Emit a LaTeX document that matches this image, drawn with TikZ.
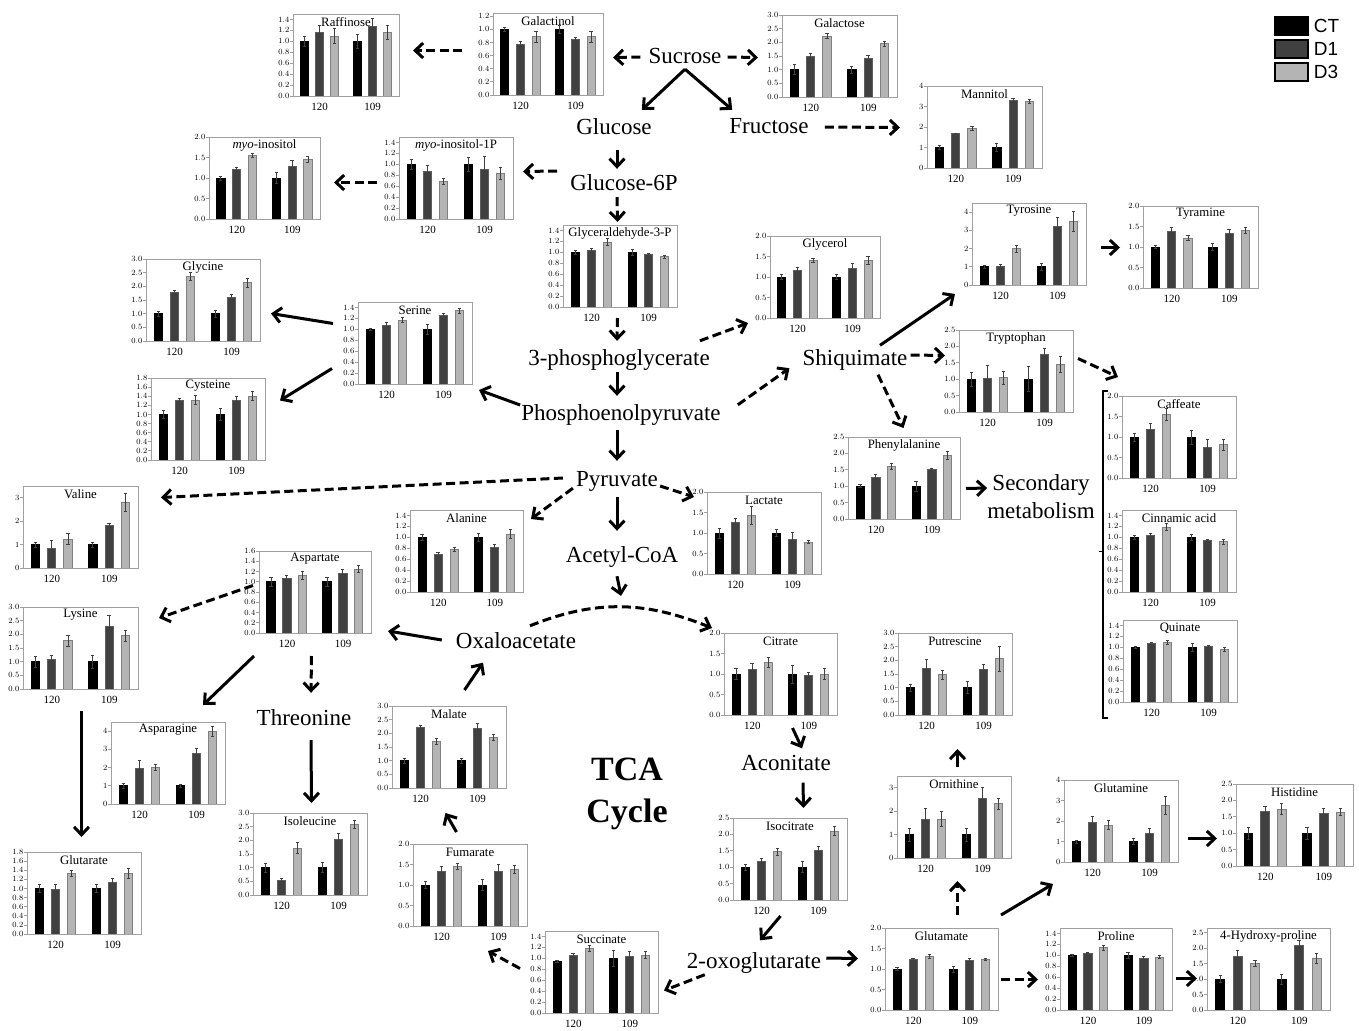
\documentclass[tikz,border=0pt]{standalone}
\usepackage{fontspec}
\setmainfont{Liberation Serif}
\newfontfamily\legendfont{Liberation Sans}
\usetikzlibrary{arrows.meta}
\usetikzlibrary{positioning}
\definecolor{dgrey}{HTML}{404040}
\definecolor{lgrey}{HTML}{B4B4B4}
\definecolor{frgrey}{HTML}{A0A0A0}

% #1 name, #2 left, #3 top, #4 width, #5 title, #6 axis max, #7 tick step, #8 last tick, #9 value/error list
\newcommand{\barchart}[9]{%
  \begin{scope}[shift={(#2,#3)}]
    \pgfmathtruncatemacro\tn{round(#8/#7)}
    \pgfmathtruncatemacro\prec{#7<1 ? 1 : 0}
    \foreach \i in {0,...,\tn} {
      \pgfmathsetmacro\tv{\i*#7}
      \pgfmathsetmacro\ty{82-\tv*82/#6}
      \draw[tickmark] (-3,\ty) -- (0,\ty);
      \node[ticklabel] at (-3.5,\ty) {\pgfmathprintnumber[fixed, fixed zerofill, precision=\prec]{\tv}};
    }
    \foreach \val/\err [count=\j from 0] in {#9} {
      \pgfmathtruncatemacro\bk{mod(\j,3)}
      \pgfmathsetmacro\bw{0.073*#4}
      \pgfmathsetmacro\bx{#4*(0.07+0.5*floor(\j/3)+0.142*\bk)}
      \pgfmathsetmacro\bc{\bx+\bw/2}
      \pgfmathsetmacro\by{82-\val*82/#6}
      \pgfmathsetmacro\ehi{82-(\val+\err)*82/#6}
      \pgfmathsetmacro\elo{82-(\val-\err)*82/#6}
      \ifcase\bk \def\bfill{black}\def\bedge{black}\or \def\bfill{dgrey}\def\bedge{dgrey!85!white}\or \def\bfill{lgrey}\def\bedge{gray}\fi
      \filldraw[fill=\bfill, draw=\bedge, line width=0.7pt] (\bx,82) rectangle ({\bx+\bw},\by);
      \draw[errbar] (\bc,\ehi) -- (\bc,\elo) ({\bc-1.6},\ehi) -- ({\bc+1.6},\ehi) ({\bc-1.6},\elo) -- ({\bc+1.6},\elo);
    }
    \node[chartbox, minimum width=#4pt, minimum height=82pt, anchor=north west] (#1) at (0,0) {};
    \node[charttitle] (#1-title) at ({#4/2},8) {#5};
    \node[grouplabel] (#1-a) at ({0.25*#4},93) {120};
    \node[grouplabel] (#1-b) at ({0.75*#4},93) {109};
  \end{scope}
}

\begin{document}
\begin{tikzpicture}[
    x=1pt, y=-1pt,
    metab/.style={font=\fontsize{23}{27}\selectfont, inner sep=0pt, text height=17pt, text depth=3pt},
    flow/.style={-{Straight Barb[length=8pt, width=15pt]}, line width=3pt},
    dflow/.style={flow, dash pattern=on 9pt off 4.5pt},
    chartbox/.style={rectangle, draw=frgrey, line width=1pt},
    charttitle/.style={font=\fontsize{12.8}{14}\selectfont, inner sep=0pt},
    grouplabel/.style={font=\fontsize{11}{13}\selectfont, inner sep=0pt},
    ticklabel/.style={font=\fontsize{8.5}{10}\selectfont, inner sep=0pt, anchor=east},
    tickmark/.style={draw=frgrey, line width=0.8pt},
    errbar/.style={draw=black!75, line width=0.7pt},
    legendkey/.style={rectangle, draw=black, line width=1.5pt, minimum width=33pt, minimum height=18pt},
    legendtext/.style={font=\legendfont\fontsize{19}{22}\selectfont, inner sep=0pt},
    ]
    \useasboundingbox (0,0) rectangle (1359,1030);

    % metabolites
    \node[metab] (sucr) at (685,57) {Sucrose};
    \node[metab] (glc) at (614,128) {Glucose};
    \node[metab] (fru) at (769,127) {Fructose};
    \node[metab] (g6p) at (624,183) {Glucose-6P};
    \node[metab] (pga) at (619,358) {3-phosphoglycerate};
    \node[metab] (pep) at (621,413) {Phosphoenolpyruvate};
    \node[metab] (shq) at (855,358) {Shiquimate};
    \node[metab] (pyr) at (617,479) {Pyruvate};
    \node[metab] (acoa) at (622,555) {Acetyl-CoA};
    \node[metab] (oaa) at (516,641) {Oxaloacetate};
    \node[metab] (thr) at (304,718) {Threonine};
    \node[metab] (aco) at (786,763) {Aconitate};
    \node[metab] (oxg) at (754,961) {2-oxoglutarate};
    \node[font=\fontsize{23}{28}\selectfont, align=center, inner sep=0pt] (sec) at (1041,497) {Secondary\\metabolism};
    \node[font=\fontsize{34}{42}\selectfont\bfseries, align=center, inner sep=0pt] (tca) at (627,794) {TCA\\Cycle};

    % charts
    \barchart{raf}{293}{14}{106}{Raffinose}{1.5}{0.2}{1.4}{1/0.09, 1.16/0.13, 1.10/0.13, 1/0.12, 1.28/0.14, 1.16/0.13}
    \barchart{galn}{493}{13}{110}{Galactinol}{1.25}{0.2}{1.2}{1/0.03, 0.77/0.05, 0.89/0.08, 1/0.06, 0.85/0.03, 0.89/0.08}
    \barchart{galc}{782}{15}{115}{Galactose}{3}{0.5}{3}{1/0.18, 1.5/0.1, 2.23/0.1, 1/0.13, 1.42/0.1, 1.95/0.1}
    \barchart{man}{927}{86}{115}{Mannitol}{4}{1}{4}{1/0.1, 1.68/0.03, 1.93/0.1, 1/0.2, 3.28/0.13, 3.26/0.1}
    \barchart{myo}{209}{137}{111}{\textit{myo}-inositol}{2}{0.5}{2}{1/0.05, 1.21/0.06, 1.55/0.04, 1/0.14, 1.29/0.13, 1.45/0.07}
    \barchart{myop}{399}{137}{114}{\textit{myo}-inositol-1P}{1.5}{0.2}{1.4}{1/0.1, 0.87/0.11, 0.69/0.05, 1/0.13, 0.91/0.24, 0.84/0.11}
    \barchart{gap}{563}{225}{114}{Glyceraldehyde-3-P}{1.5}{0.2}{1.4}{1/0.03, 1.04/0.04, 1.19/0.06, 1/0.05, 0.96/0.03, 0.92/0.03}
    \barchart{glyc}{770}{236}{110}{Glycerol}{2}{0.5}{2}{1/0.06, 1.16/0.08, 1.41/0.05, 1/0.06, 1.21/0.13, 1.41/0.09}
    \barchart{tyr}{972}{203}{114}{Tyrosine}{4.5}{1}{4}{1/0.1, 1.03/0.12, 2/0.2, 1/0.2, 3.22/0.5, 3.48/0.55}
    \barchart{tym}{1143}{206}{115}{Tyramine}{2}{0.5}{2}{1/0.04, 1.38/0.1, 1.22/0.06, 1/0.09, 1.33/0.09, 1.40/0.07}
    \barchart{gly}{146}{259}{114}{Glycine}{3}{0.5}{3}{1/0.1, 1.78/0.08, 2.37/0.14, 1/0.12, 1.6/0.1, 2.14/0.16}
    \barchart{ser}{358}{302}{114}{Serine}{1.5}{0.2}{1.4}{1/0.02, 1.07/0.05, 1.17/0.05, 1/0.09, 1.25/0.05, 1.34/0.05}
    \barchart{cys}{151}{378}{114}{Cysteine}{1.8}{0.2}{1.8}{1/0.09, 1.30/0.05, 1.32/0.1, 1/0.13, 1.32/0.08, 1.40/0.1}
    \barchart{trp}{959}{330}{114}{Tryptophan}{2.5}{0.5}{2.5}{1/0.22, 1.02/0.4, 1.05/0.2, 1/0.38, 1.75/0.18, 1.46/0.24}
    \barchart{phe}{848}{437}{112}{Phenylalanine}{2.5}{0.5}{2.5}{1/0.05, 1.28/0.08, 1.6/0.1, 1/0.15, 1.5/0.05, 1.95/0.12}
    \barchart{caf}{1122}{396}{114}{Caffeate}{2}{0.5}{2}{1/0.1, 1.18/0.15, 1.55/0.15, 1/0.17, 0.74/0.2, 0.81/0.13}
    \barchart{cin}{1122}{510}{114}{Cinnamic acid}{1.5}{0.2}{1.4}{1/0.04, 1.04/0.04, 1.19/0.06, 1/0.05, 0.94/0.03, 0.92/0.04}
    \barchart{qui}{1123}{620}{114}{Quinate}{1.5}{0.2}{1.4}{1/0.01, 1.07/0.03, 1.09/0.04, 1/0.08, 1.01/0.03, 0.96/0.04}
    \barchart{val}{23}{486}{115}{Valine}{3.5}{1}{3}{1/0.1, 0.85/0.33, 1.23/0.23, 1/0.1, 1.83/0.08, 2.8/0.4}
    \barchart{lys}{23}{607}{115}{Lysine}{3}{0.5}{3}{1/0.2, 1.08/0.15, 1.77/0.2, 1/0.24, 2.3/0.4, 1.95/0.2}
    \barchart{asp}{259}{551}{112}{Aspartate}{1.6}{0.2}{1.6}{1/0.08, 1.07/0.06, 1.12/0.08, 1/0.08, 1.16/0.08, 1.25/0.07}
    \barchart{ala}{410}{510}{113}{Alanine}{1.5}{0.2}{1.4}{1/0.05, 0.69/0.03, 0.78/0.03, 1/0.08, 0.81/0.07, 1.06/0.08}
    \barchart{lac}{707}{492}{114}{Lactate}{2}{0.5}{2}{1/0.12, 1.27/0.08, 1.44/0.22, 1/0.08, 0.84/0.18, 0.78/0.04}
    \barchart{cit}{724}{633}{113}{Citrate}{2}{0.5}{2}{1/0.14, 1.11/0.16, 1.29/0.12, 1/0.22, 0.97/0.08, 1/0.14}
    \barchart{put}{898}{633}{114}{Putrescine}{3}{0.5}{3}{1/0.12, 1.7/0.33, 1.48/0.17, 1/0.22, 1.66/0.18, 2.06/0.46}
    \barchart{asn}{111}{722}{114}{Asparagine}{4.5}{1}{4}{1/0.13, 1.95/0.43, 2.02/0.17, 1/0.1, 2.78/0.25, 4/0.27}
    \barchart{mal}{392}{706}{114}{Malate}{3}{0.5}{3}{1/0.1, 2.22/0.07, 1.7/0.1, 1/0.1, 2.18/0.2, 1.85/0.1}
    \barchart{ile}{253}{813}{114}{Isoleucine}{3}{0.5}{3}{1/0.17, 0.52/0.08, 1.72/0.2, 1/0.18, 2.05/0.22, 2.58/0.14}
    \barchart{glt}{27}{852}{114}{Glutarate}{1.8}{0.2}{1.8}{1/0.08, 0.97/0.12, 1.33/0.07, 1/0.08, 1.13/0.1, 1.33/0.11}
    \barchart{fum}{413}{844}{114}{Fumarate}{2}{0.5}{2}{1/0.09, 1.33/0.13, 1.46/0.08, 1/0.14, 1.33/0.18, 1.39/0.1}
    \barchart{ict}{733}{818}{114}{Isocitrate}{2.5}{0.5}{2.5}{1/0.1, 1.17/0.1, 1.47/0.1, 1/0.17, 1.5/0.15, 2.1/0.14}
    \barchart{orn}{897}{776}{114}{Ornithine}{3.5}{1}{3}{1/0.27, 1.63/0.5, 1.67/0.33, 1/0.27, 2.55/0.47, 2.32/0.23}
    \barchart{gln}{1064}{780}{114}{Glutamine}{4}{1}{4}{1/0.08, 1.93/0.3, 1.81/0.23, 1/0.15, 1.38/0.26, 2.75/0.43}
    \barchart{his}{1236}{784}{117}{Histidine}{2.5}{0.5}{2.5}{1/0.18, 1.66/0.15, 1.74/0.17, 1/0.18, 1.62/0.13, 1.65/0.1}
    \barchart{succ}{545}{931}{113}{Succinate}{1.5}{0.2}{1.4}{0.95/0.02, 1.05/0.05, 1.18/0.05, 1/0.14, 1.03/0.09, 1.06/0.06}
    \barchart{glu}{885}{928}{113}{Glutamate}{2}{0.5}{2}{1/0.03, 1.23/0.02, 1.31/0.04, 1/0.07, 1.21/0.05, 1.24/0.03}
    \barchart{pro}{1060}{928}{112}{Proline}{1.5}{0.2}{1.4}{1/0.02, 1.04/0.01, 1.14/0.04, 1/0.05, 0.95/0.04, 0.97/0.03}
    \barchart{hyp}{1207}{928}{123}{4-Hydroxy-proline}{2.65}{0.5}{2.5}{1/0.12, 1.73/0.2, 1.5/0.1, 1/0.16, 2.1/0.15, 1.67/0.16}

    % legend
    \foreach \lbl/\col [count=\i] in {CT/black, D1/dgrey, D3/lgrey} {
        \node[legendkey, fill=\col] (key\lbl) at (1291.5,{3+23*\i}) {};
        \node[legendtext, right=5pt of key\lbl] (txt\lbl) {\lbl};
    }

    % bracket round the phenylpropanoids
    \draw[line width=1.5pt] ([shift={(-14,-5)}]caf.north west) -- ++(-5,0) |- ([shift={(-15,15)}]qui.south west);
    \draw[line width=1.5pt] ([shift={(-19,0)}]cin.west) -- ++(-4,0);

    % sugars
    \draw[dflow] ([shift={(-8,0)}]sucr.west) -- ([shift={(9,3)}]galn.east);
    \draw[dflow] ([shift={(-31,-4)}]galn.west) -- ([shift={(13,-5)}]raf.east);
    \draw[dflow] ([shift={(6,0)}]sucr.east) -- ([shift={(-24,1)}]galc.west);
    \draw[flow] ([shift={(0,2)}]sucr.south) -- ([shift={(-10,-8)}]glc.north east);
    \draw[flow] ([shift={(0,2)}]sucr.south) -- ([shift={(3,-7)}]fru.north west);
    \draw[dflow] ([shift={(16,0)}]fru.east) -- ([shift={(-27,0)}]man.west);
    \draw[flow] ([shift={(3,12)}]glc.south) -- ([shift={(-7,-4)}]g6p.north);
    \draw[dflow] ([shift={(-13,-12)}]g6p.west) -- ([shift={(9,-7)}]myop.east);
    \draw[dflow] ([shift={(-22,4)}]myop.west) -- ([shift={(13,4)}]myo.east);
    \draw[dflow] ([shift={(-7,4)}]g6p.south) -- ([shift={(-3,-3)}]gap.north);
    \draw[dflow] ([shift={(-3,10)}]gap.south) -- ([shift={(-2,-7)}]pga.north);
    \draw[dflow] ([shift={(-10,-7)}]pga.north east) -- ([shift={(-22,4)}]glyc.south west);
    \draw[flow] ([shift={(-2,4)}]pga.south) -- ([shift={(-4,-7)}]pep.north);

    % serine
    \draw[flow] ([shift={(-1,-8)}]pep.west) -- ([shift={(6,5)}]ser.south east);
    \draw[flow] ([shift={(-25,-20)}]ser.west) -- ([shift={(10,13)}]gly.east);
    \draw[flow] ([shift={(-26,25)}]ser.west) -- ([shift={(14,-19)}]cys.east);

    % shiquimate
    \draw[dflow] ([shift={(17,2)}]pep.north east) -- ([shift={(-13,0)}]shq.south west);
    \draw[flow] ([shift={(25,-2.5)}]shq.north) -- ([shift={(-17,8)}]tyr.south west);
    \draw[flow] ([shift={(14,3)}]tyr.east) -- ([shift={(-23,0)}]tym.west);
    \draw[dflow] ([shift={(3,-3)}]shq.east) -- ([shift={(-14,-16)}]trp.west);
    \draw[dflow] ([shift={(4,-13)}]trp.east) -- ([shift={(-4,-19)}]caf.north west);
    \draw[dflow] ([shift={(23,6.5)}]shq.south) -- ([shift={(-1,-9)}]phe.north);
    \draw[flow] ([shift={(5,10)}]phe.east) -- ([shift={(0,-9)}]sec.west);

    % pyruvate
    \draw[flow] ([shift={(-4,7)}]pep.south) -- ([shift={(0,-8)}]pyr.north);
    \draw[dflow] ([shift={(-13,-1)}]pyr.west) -- ([shift={(22,-30)}]val.east);
    \draw[dflow] ([shift={(-3,-1)}]pyr.south west) -- ([shift={(7,9)}]ala.north east);
    \draw[dflow] ([shift={(2,7)}]pyr.east) -- ([shift={(-13,5)}]lac.north west);
    \draw[flow] ([shift={(0,8)}]pyr.south) -- ([shift={(-5,-14)}]acoa.north);

    % TCA cycle
    \draw[dflow] ([shift={(14,-5)}]oaa.north) to[out=22, in=158] coordinate[pos=0.5] (arctop) ([shift={(-12,-5)}]cit.north west);
    \draw[flow] ([shift={(-5,11)}]acoa.south) -- ([shift={(0,-11)}]arctop);
    \draw[flow] ([shift={(11.5,12)}]cit.south) -- ([shift={(16,-4.5)}]aco.north);
    \draw[flow] ([shift={(17,9.5)}]aco.south) -- ([shift={(13,-10)}]ict.north);
    \draw[flow] ([shift={(-10,15)}]ict.south) -- ([shift={(6,-10.5)}]oxg.north);
    \draw[dflow] ([shift={(18,3.5)}]oxg.south west) -- ([shift={(5,18)}]succ.east);
    \draw[dflow] ([shift={(-25,-4)}]succ.west) -- ([shift={(-40,24)}]fum.south east);
    \draw[flow] ([shift={(-14,-12)}]fum.north) -- ([shift={(-4,24)}]mal.south);
    \draw[flow] ([shift={(15,-16)}]mal.north) -- ([shift={(-33,11.5)}]oaa.south);

    % aspartate family
    \draw[flow] ([shift={(-14,-1)}]oaa.west) -- ([shift={(16,-3)}]asp.south east);
    \draw[dflow] ([shift={(-6,-7)}]asp.west) -- ([shift={(20,11)}]lys.north east);
    \draw[dflow] ([shift={(-4,22)}]asp.south) -- ([shift={(7,-15)}]thr.north);
    \draw[flow] ([shift={(-5,22)}]asp.south west) -- ([shift={(-23,-17)}]asn.north east);
    \draw[flow] ([shift={(7,12)}]thr.south) -- ([shift={(1,-10)}]ile.north);
    \draw[flow] ([shift={(0.5,21)}]lys.south) -- ([shift={(-3,-15)}]glt.north);

    % glutamate family
    \draw[flow] ([shift={(5,-3)}]oxg.east) -- ([shift={(-27,-11)}]glu.west);
    \draw[dflow] ([shift={(15.5,-13)}]glu.north) -- ([shift={(3,22)}]orn.south);
    \draw[flow] ([shift={(3,-9)}]orn.north) -- ([shift={(2,33)}]put.south);
    \draw[flow] ([shift={(2,-13)}]glu.north east) -- ([shift={(-11,21)}]gln.south west);
    \draw[flow] ([shift={(9,17)}]gln.east) -- ([shift={(-19,13)}]his.west);
    \draw[dflow] ([shift={(2,10)}]glu.east) -- ([shift={(-22,10)}]pro.west);
    \draw[flow] ([shift={(3,9)}]pro.east) -- ([shift={(-10,9)}]hyp.west);
\end{tikzpicture}
\end{document}
